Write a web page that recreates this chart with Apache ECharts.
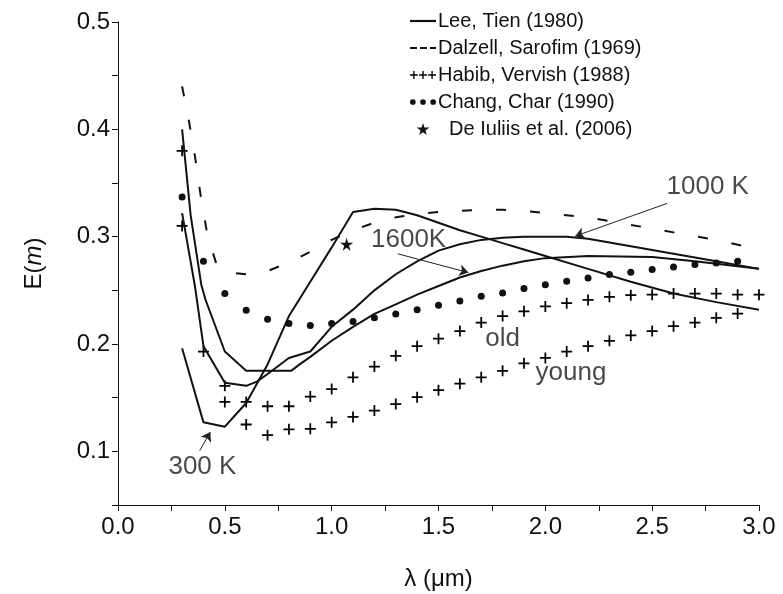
<!DOCTYPE html>
<html>
<head>
<meta charset="utf-8">
<script src="https://cdn.jsdelivr.net/npm/echarts@6/dist/echarts.min.js"></script>
<style>
  html, body { margin: 0; padding: 0; background: #fff; }
  #chart { width: 783px; height: 594px; }
</style>
</head>
<body>
<div id="chart"></div>
<script>
// Lee, Tien (1980) - three temperatures
const lee300K = [[0.3,0.196],[0.4,0.127],[0.5,0.123],[0.6,0.145],[0.7,0.181],[0.8,0.226],[0.9,0.258],[1.0,0.29],[1.1,0.323],[1.2,0.326],[1.3,0.325],[1.4,0.32],[1.5,0.313],[1.6,0.306],[1.7,0.3],[1.8,0.294],[1.9,0.288],[2.0,0.282],[2.2,0.27],[2.4,0.258],[2.6,0.247],[2.8,0.239],[3.0,0.232]];
const lee1000K = [[0.3,0.322],[0.36,0.254],[0.4,0.198],[0.5,0.164],[0.6,0.161],[0.65,0.165],[0.7,0.172],[0.8,0.187],[0.9,0.193],[1.0,0.216],[1.1,0.232],[1.2,0.25],[1.3,0.265],[1.4,0.277],[1.5,0.287],[1.6,0.293],[1.7,0.297],[1.8,0.299],[1.9,0.3],[2.0,0.3],[2.1,0.3],[2.2,0.298],[2.4,0.291],[2.6,0.284],[2.8,0.277],[3.0,0.27]];
const lee1600K = [[0.3,0.4],[0.34,0.32],[0.39,0.255],[0.41,0.241],[0.5,0.193],[0.6,0.175],[0.7,0.175],[0.81,0.175],[0.85,0.181],[0.9,0.188],[1.0,0.203],[1.1,0.216],[1.2,0.228],[1.3,0.237],[1.4,0.246],[1.5,0.254],[1.6,0.262],[1.7,0.268],[1.8,0.273],[1.9,0.277],[2.0,0.28],[2.2,0.282],[2.5,0.281],[2.7,0.277],[3.0,0.27]];

// Dalzell, Sarofim (1969)
const dalzell = [[0.3,0.44],[0.33,0.41],[0.36,0.375],[0.39,0.334],[0.42,0.3],[0.46,0.275],[0.5,0.267],[0.6,0.265],[0.7,0.268],[0.8,0.276],[0.9,0.286],[1.0,0.297],[1.1,0.306],[1.2,0.313],[1.3,0.318],[1.4,0.321],[1.5,0.323],[1.6,0.324],[1.7,0.325],[1.8,0.325],[1.9,0.324],[2.0,0.322],[2.2,0.318],[2.4,0.311],[2.6,0.304],[2.8,0.297],[3.0,0.288]];

// Habib, Vervish (1988) - old / young soot
const habibOld = [[0.3,0.38],[0.5,0.161],[0.6,0.146],[0.7,0.142],[0.8,0.142],[0.9,0.151],[1.0,0.158],[1.1,0.169],[1.2,0.179],[1.3,0.189],[1.4,0.198],[1.5,0.205],[1.6,0.212],[1.7,0.22],[1.8,0.226],[1.9,0.2305],[2.0,0.235],[2.1,0.238],[2.2,0.241],[2.3,0.244],[2.4,0.2455],[2.5,0.246],[2.6,0.247],[2.7,0.247],[2.8,0.247],[2.9,0.246],[3.0,0.246]];
const habibYoung = [[0.3,0.31],[0.4,0.193],[0.5,0.146],[0.6,0.125],[0.7,0.115],[0.8,0.1205],[0.9,0.121],[1.0,0.127],[1.1,0.132],[1.2,0.138],[1.3,0.144],[1.4,0.1505],[1.5,0.157],[1.6,0.163],[1.7,0.169],[1.8,0.175],[1.9,0.182],[2.0,0.187],[2.1,0.193],[2.2,0.198],[2.3,0.203],[2.4,0.208],[2.5,0.212],[2.6,0.2166],[2.7,0.22],[2.8,0.2244],[2.9,0.2284]];

// Chang, Char (1990)
const changX = [0.3,0.4,0.5,0.6,0.7,0.8,0.9,1.0,1.1,1.2,1.3,1.4,1.5,1.6,1.7,1.8,1.9,2.0,2.1,2.2,2.3,2.4,2.5,2.6,2.7,2.8,2.9];
const changY = [0.337,0.277,0.247,0.2315,0.223,0.219,0.2173,0.219,0.221,0.2244,0.228,0.232,0.236,0.24,0.2445,0.2476,0.2518,0.2553,0.2584,0.2616,0.2647,0.2668,0.2693,0.2718,0.274,0.2755,0.277];

// De Iuliis et al. (2006)
const deIuliis = [[1.07,0.293]];

// annotations (data coords)
const noteText = ['1000 K', '1600K', 'old', 'young', '300 K'];
const notePos = [[2.76,0.3465],[1.36,0.297],[1.8,0.205],[2.12,0.1735],[0.395,0.086]];
const arrows = [
  [[2.57,0.331],[2.14,0.3005]],
  [[1.31,0.284],[1.64,0.2665]],
  [[0.382,0.1005],[0.432,0.118]]
];

const LEE = 'Lee, Tien (1980)';
const DAL = 'Dalzell, Sarofim (1969)';
const HAB = 'Habib, Vervish (1988)';
const CHA = 'Chang, Char (1990)';
const DEI = 'De Iuliis et al. (2006)';

const FONT = '"Liberation Sans", Arial, sans-serif';
const INK = '#111';

const PLUS = 'path://M4.2,0h1.6v4.2h4.2v1.6h-4.2v4.2h-1.6v-4.2h-4.2v-1.6h4.2z';
const STAR = 'path://M50,0L61,35L98,35L68,57L79,91L50,70L21,91L32,57L2,35L39,35Z';

function plusAt(cx) {
  const a = cx - 0.7;
  return 'M' + a + ',0h1.4v3.3h3.3v1.4h-3.3v3.3h-1.4v-3.3h-3.3v-1.4h3.3z';
}
function dotAt(cx) {
  return 'M' + (cx - 2.8) + ',3a2.8,2.8 0 1,0 5.6,0a2.8,2.8 0 1,0 -5.6,0z';
}

function leeLine(data) {
  return {
    name: LEE, type: 'line', data: data, symbol: 'none', silent: true,
    lineStyle: { color: INK, width: 2 }, itemStyle: { color: INK }, z: 3
  };
}

const chart = echarts.init(document.getElementById('chart'));

const option = {
  animation: false,
  backgroundColor: '#fff',
  textStyle: { fontFamily: FONT },
  grid: { left: 118, right: 24, top: 22, bottom: 89, containLabel: false, outerBoundsMode: 'none' },
  legend: {
    orient: 'vertical',
    left: 405,
    top: 6,
    itemWidth: 26,
    itemHeight: 12,
    itemGap: 7,
    selectedMode: false,
    itemStyle: { borderWidth: 0, opacity: 1 },
    textStyle: { fontFamily: FONT, fontSize: 20, color: INK, padding: [0, 0, 0, -3] },
    formatter: function (name) { return name === DEI ? '  ' + name : name; },
    data: [
      { name: LEE, icon: 'path://M0,0h26v2.2h-26z' },
      { name: DAL, icon: 'path://M0,0h7v2.2h-7zM10,0h7v2.2h-7zM20,0h6v2.2h-6z' },
      { name: HAB, icon: 'path://' + plusAt(3.7) + plusAt(13) + plusAt(22.3) },
      { name: CHA, icon: 'path://' + dotAt(3) + dotAt(13) + dotAt(23) },
      { name: DEI, icon: STAR }
    ]
  },
  xAxis: {
    type: 'value',
    min: 0,
    max: 3,
    interval: 0.5,
    name: 'λ (μm)',
    nameLocation: 'middle',
    nameGap: 62,
    nameTextStyle: { fontFamily: FONT, fontSize: 24, color: INK },
    axisLine: { show: true, lineStyle: { color: INK, width: 1 } },
    axisTick: { show: true, length: 6, lineStyle: { color: INK, width: 1 } },
    minorTick: { show: true, splitNumber: 2, length: 6, lineStyle: { color: INK, width: 1 } },
    axisLabel: { fontFamily: FONT, fontSize: 24, color: INK, margin: 10, formatter: v => v.toFixed(1) },
    splitLine: { show: false }
  },
  yAxis: {
    type: 'value',
    min: 0.05,
    max: 0.5,
    interval: 0.05,
    name: '{a|E(}{i|m}{a|)}',
    nameLocation: 'middle',
    nameRotate: 90,
    nameGap: 72,
    nameTextStyle: {
      rich: {
        a: { fontFamily: FONT, fontSize: 24, color: INK },
        i: { fontFamily: FONT, fontSize: 24, color: INK, fontStyle: 'italic' }
      }
    },
    axisLine: { show: true, lineStyle: { color: INK, width: 1 } },
    axisTick: { show: true, length: 6, lineStyle: { color: INK, width: 1 } },
    axisLabel: {
      fontFamily: FONT, fontSize: 24, color: INK, margin: 8,
      formatter: function (v) {
        const k = Math.round(v * 100);
        return k % 10 === 0 ? (k / 100).toFixed(1) : '';
      }
    },
    splitLine: { show: false }
  },
  series: [
    leeLine(lee300K),
    leeLine(lee1000K),
    leeLine(lee1600K),
    {
      name: DAL, type: 'line', data: dalzell, symbol: 'none', silent: true,
      lineStyle: { color: INK, width: 2, type: [10, 24] }, itemStyle: { color: INK }
    },
    {
      name: HAB, type: 'scatter', data: habibOld, symbol: PLUS, symbolSize: 11,
      itemStyle: { color: '#000', opacity: 1 }, silent: true
    },
    {
      name: HAB, type: 'scatter', data: habibYoung, symbol: PLUS, symbolSize: 11,
      itemStyle: { color: '#000', opacity: 1 }, silent: true
    },
    {
      name: CHA, type: 'scatter', data: changX.map((x, i) => [x, changY[i]]),
      symbol: 'circle', symbolSize: 7, itemStyle: { color: INK, opacity: 1 }, silent: true
    },
    {
      name: DEI, type: 'scatter', data: deIuliis, symbol: STAR, symbolSize: 13,
      itemStyle: { color: INK, opacity: 1 }, silent: true
    },
    {
      name: 'notes', type: 'scatter', data: notePos, symbolSize: 1, silent: true,
      itemStyle: { color: 'rgba(0,0,0,0)' },
      label: {
        show: true, position: 'inside', fontFamily: FONT, fontSize: 26, color: '#1a1a1a',
        formatter: p => noteText[p.dataIndex]
      },
      markLine: {
        silent: true,
        symbol: ['none', 'arrow'],
        symbolSize: 9,
        lineStyle: { color: '#222', width: 1, type: 'solid', opacity: 1 },
        label: { show: false },
        emphasis: { disabled: true },
        data: arrows.map(a => [{ coord: a[0] }, { coord: a[1] }])
      }
    }
  ]
};

chart.setOption(option);
</script>
</body>
</html>
